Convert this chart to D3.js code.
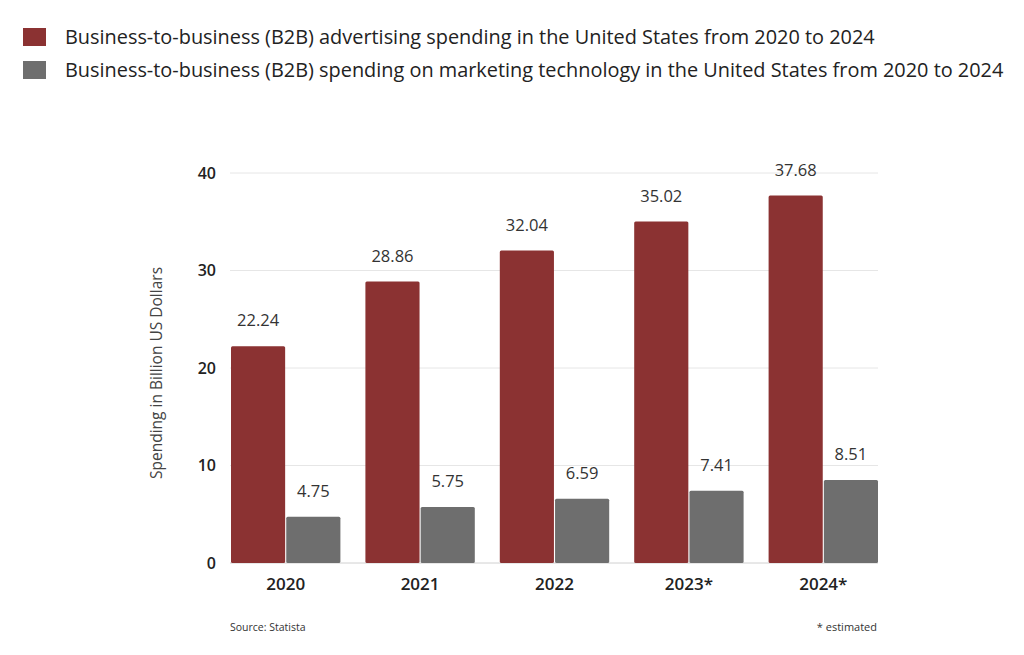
<!DOCTYPE html>
<html><head><meta charset="utf-8">
<script src="https://cdn.jsdelivr.net/npm/d3@7"></script>
<style>body{margin:0;background:#fff}svg{display:block}text{font-family:"Open Sans","Noto Sans",sans-serif}</style>
</head><body>
<svg id="c" width="1024" height="655"></svg>
<script>
const categories = ["2020","2021","2022","2023*","2024*"];
const advertising = [22.24,28.86,32.04,35.02,37.68];
const martech = [4.75,5.75,6.59,7.41,8.51];
const seriesNames = ["Business-to-business (B2B) advertising spending in the United States from 2020 to 2024","Business-to-business (B2B) spending on marketing technology in the United States from 2020 to 2024"];
const yTicks = [0,10,20,30,40];
const colors = ["#8B3232","#6E6E6E"];

const svg = d3.select("#c");
const x0 = d3.scaleBand().domain(categories).range([231,878]).paddingInner(0.186).paddingOuter(0);
const x1 = d3.scaleBand().domain([0,1]).range([0,x0.bandwidth()]).paddingInner(0.02);
const y = d3.scaleLinear().domain([0,40]).range([563,173]);

// grid
svg.append("g").selectAll("line").data(yTicks).join("line")
  .attr("x1",230).attr("x2",878).attr("y1",d=>y(d)).attr("y2",d=>y(d))
  .attr("stroke",d=>d===0?"#d0d0d0":"#e6e6e6").attr("stroke-width",1);
// y ticks
svg.append("g").selectAll("text").data(yTicks).join("text")
  .attr("x",216).attr("y",d=>y(d)).attr("dy","0.35em").attr("text-anchor","end")
  .attr("font-size",16).attr("font-weight",600).attr("fill","#222").text(d=>d);
// y title
svg.append("text").attr("transform","translate(162,373) rotate(-90)").attr("text-anchor","middle")
  .attr("font-size",15.5).attr("fill","#444").text("Spending in Billion US Dollars");

const data = categories.map((c,i)=>({c, vals:[advertising[i],martech[i]]}));
const g = svg.append("g").selectAll("g").data(data).join("g").attr("transform",d=>`translate(${x0(d.c)},0)`);
g.selectAll("rect").data(d=>d.vals.map((v,k)=>({v,k}))).join("rect")
  .attr("x",d=>x1(d.k)).attr("width",x1.bandwidth()).attr("y",d=>y(d.v)).attr("height",d=>y(0)-y(d.v))
  .attr("rx",1.5).attr("fill",d=>colors[d.k]);
g.selectAll("text.v").data(d=>d.vals.map((v,k)=>({v,k}))).join("text").attr("class","v")
  .attr("x",d=>x1(d.k)+x1.bandwidth()/2).attr("y",d=>y(d.v)-20).attr("text-anchor","middle")
  .attr("font-size",16.5).attr("fill","#333").text(d=>d.v.toFixed(2));
// x labels
svg.append("g").selectAll("text").data(categories).join("text")
  .attr("x",d=>x0(d)+x0.bandwidth()/2).attr("y",590).attr("text-anchor","middle")
  .attr("font-size",17).attr("font-weight",600).attr("fill","#222").text(d=>d);
// legend
const lg = svg.append("g").selectAll("g").data(seriesNames).join("g").attr("transform",(d,i)=>`translate(0,${i*33})`);
lg.append("rect").attr("x",23).attr("y",28).attr("width",23).attr("height",18).attr("fill",(d,i)=>colors[i]);
lg.append("text").attr("x",65).attr("y",44).attr("font-size",19.9).attr("fill","#222").text(d=>d);
// footer
svg.append("text").attr("x",230).attr("y",631).attr("font-size",10.5).attr("fill","#333").text("Source: Statista");
svg.append("text").attr("x",877).attr("y",631).attr("text-anchor","end").attr("font-size",11).attr("fill","#333").text("* estimated");
</script>
</body></html>
